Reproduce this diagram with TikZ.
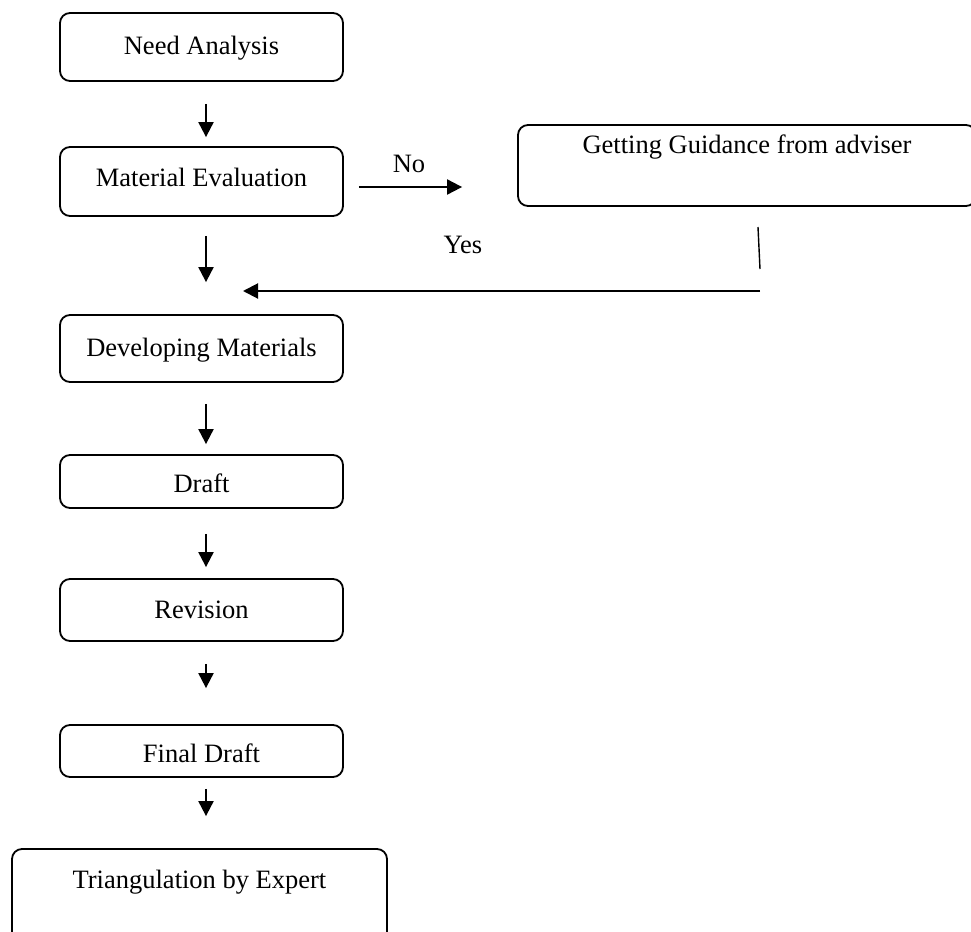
\documentclass[tikz,border=0pt]{standalone}
\usepackage{fontspec}
\setmainfont{Liberation Serif}
\usetikzlibrary{arrows.meta}

\begin{document}
\begin{tikzpicture}
        [x=0.5pt, y=-0.5pt, >={Triangle[length=7.5pt,width=7.5pt]},
         font=\fontsize{13.25}{16}\selectfont,
         stagebox/.style={draw=black, line width=0.9pt, rounded corners=5pt, minimum width=141.5pt, text height=1.15em, text depth=0.3em},
         flow/.style={->, line width=1pt},
         tag/.style={anchor=base}]

        \useasboundingbox (0,0) rectangle (971,932);

        \foreach \name/\y/\h/\d/\txt in {need/47/34/0.44/Need Analysis, evaluation/181.5/34.5/0.63/Material Evaluation, developing/348.5/33.5/0.4/Developing Materials, draft/481.5/26.5/0.1/Draft, revision/610/31/0.29/Revision, finaldraft/751/26/0/Final Draft}
        \node[stagebox, minimum height=\h pt, text depth=\d em] (\name) at (201.5, \y) {\txt};

        \node[stagebox, minimum width=229pt, minimum height=40.5pt, inner ysep=0pt, text height=14.4pt, text depth=26.1pt] (guidance) at (747, 165.5) {Getting Guidance from adviser};
        \node[stagebox, minimum width=187.5pt, minimum height=48pt, inner ysep=0pt, text height=19.9pt, text depth=28.1pt] (triangulation) at (199.5, 897) {Triangulation by Expert};

        \coordinate (spine) at (206, 0);
        \foreach \a/\b/\s/\e in {need/evaluation/11/4.5, evaluation/developing/9.5/16, developing/draft/10.5/5, draft/revision/12.5/5.5, revision/finaldraft/11/18, finaldraft/triangulation/5.5/16}
        \draw[flow, shorten <=\s pt, shorten >=\e pt] (\a.south -| spine) -- (\b.north -| spine);

        \coordinate (nolevel) at (0, 187);
        \draw[flow, shorten <=7.5pt, shorten >=27.5pt] (evaluation.east |- nolevel) -- (guidance.west |- nolevel);

        \coordinate (backtop) at (758, 227);
        \coordinate (backbend) at (760, 269);
        \coordinate (backstart) at (760, 291);
        \coordinate (merge) at (243, 291);
        \draw[line width=0.7pt] (backtop) -- (backbend);
        \draw[flow] (backstart) -- (merge);

        \node[tag] (nolabel) at (409, 172) {No};
        \node[tag] (yeslabel) at (463, 253) {Yes};

    \end{tikzpicture}
\end{document}
